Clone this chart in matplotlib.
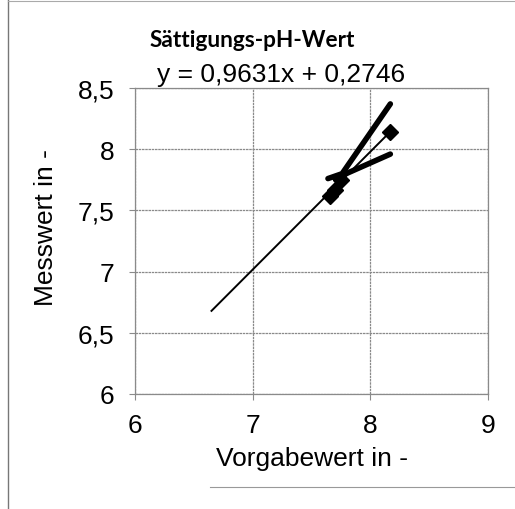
import matplotlib
matplotlib.use("Agg")
import matplotlib.pyplot as plt
from matplotlib.lines import Line2D
import numpy as np

# data
x_points = [7.66, 7.70, 7.75, 8.17]
y_points = [7.62, 7.67, 7.75, 8.14]
upper_x = [7.64, 7.76, 8.17]
upper_y = [7.76, 7.80, 8.37]
lower_x = [7.70, 8.17]
lower_y = [7.76, 7.96]
slope = 0.9631
intercept = 0.2746
trend_x = [6.65, 8.17]
x_ticks = [6, 7, 8, 9]
y_ticks = [6, 6.5, 7, 7.5, 8, 8.5]
y_tick_labels = ["6", "6,5", "7", "7,5", "8", "8,5"]
title = "Sättigungs-pH-Wert"
subtitle = "y = 0,9631x + 0,2746"
xlabel = "Vorgabewert in -"
ylabel = "Messwert in -"

plt.rcParams['font.family'] = ['Liberation Sans', 'DejaVu Sans']

W, H = 515, 510
fig = plt.figure(figsize=(W / 100, H / 100), dpi=100)
ax = fig.add_axes([135 / W, 1 - 395 / H, (488 - 135) / W, (395 - 89) / H])

grid_col = '#8a8a8a'
for v in x_ticks:
    ax.axvline(v, color=grid_col, lw=0.9, ls=(0, (2, 0.6)), zorder=1)
for v in y_ticks:
    ax.axhline(v, color=grid_col, lw=0.9, ls=(0, (2, 0.6)), zorder=1)

tx = np.array(trend_x)
ax.plot(tx, slope * tx + intercept, color='black', lw=1.4, zorder=3)
ax.plot(upper_x, upper_y, color='black', lw=4, solid_capstyle='round',
        solid_joinstyle='round', zorder=4)
ax.plot(lower_x, lower_y, color='black', lw=4, solid_capstyle='round', zorder=4)
ax.plot(x_points, y_points, ls='none', marker='D', ms=8.5, color='black', zorder=5)

ax.set_xlim(6, 9)
ax.set_ylim(6, 8.5)
ax.set_xticks(x_ticks)
ax.set_xticklabels([str(v) for v in x_ticks])
ax.set_yticks(y_ticks)
ax.set_yticklabels(y_tick_labels)
for s in ax.spines.values():
    s.set_color(grid_col)
    s.set_linewidth(0.9)
ax.tick_params(axis='both', labelsize=19, length=4, color=grid_col)
ax.tick_params(axis='x', pad=10)
ax.tick_params(axis='y', pad=11)
ax.set_xlabel(xlabel, fontsize=19)
ax.set_ylabel(ylabel, fontsize=19)
ax.xaxis.label.set_va('center')
ax.yaxis.label.set_va('center')
ax.xaxis.set_label_coords(0.5, (395 - 459) / 306)
ax.yaxis.set_label_coords((46 - 135) / 353, (395 - 228) / 306)

fig.text(252 / W, 1 - 47 / H, title, fontsize=16.3, fontweight='bold',
         family=['Lato', 'DejaVu Sans'], ha='center', va='baseline')
fig.text(281 / W, 1 - 82 / H, subtitle, fontsize=19, ha='center', va='baseline')

# outer frame (scanned chart border)
fig.add_artist(Line2D([8 / W, 8 / W], [0, 1 - 1 / H], transform=fig.transFigure, color='#777777', lw=1))
fig.add_artist(Line2D([8 / W, 1], [1 - 1.5 / H, 1 - 1.5 / H], transform=fig.transFigure, color='#aaaaaa', lw=0.8))
fig.add_artist(Line2D([210 / W, 1], [1 - 488 / H, 1 - 488 / H], transform=fig.transFigure, color='#999999', lw=0.8))

fig.savefig("out.png", dpi=100)
